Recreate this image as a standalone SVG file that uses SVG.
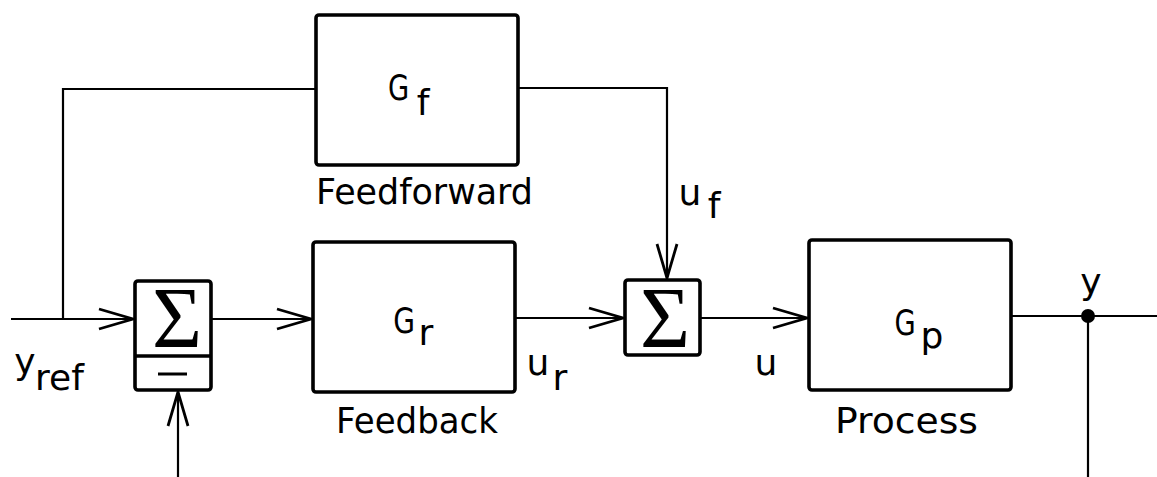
<svg xmlns="http://www.w3.org/2000/svg" width="1157" height="477" viewBox="0 0 1157 477">
<style>
.box{fill:#fff;stroke:#000;stroke-width:3.6;stroke-linejoin:round}
.ln{fill:none;stroke:#000;stroke-width:2.2}
.t{font-family:"DejaVu Sans","Liberation Sans",sans-serif;font-size:36px;fill:#000}
.lbl{font-family:"DejaVu Sans","Liberation Sans",sans-serif;font-size:35px;fill:#000}
.sig{font-family:"Liberation Serif","DejaVu Serif",serif;font-size:86px;fill:#000}
</style>
<defs>
<marker id="arr" markerUnits="userSpaceOnUse" markerWidth="42" markerHeight="28" viewBox="-3 -14 42 28" refX="34" refY="0" orient="auto">
<path d="M0,-10 L34,0 L0,10" fill="none" stroke="#000" stroke-width="2.8" stroke-linejoin="miter"/>
</marker>
</defs>
<g id="connectors">
<path class="ln" d="M11,319 H133" marker-end="url(#arr)"/>
<path class="ln" d="M63,319 V89 H316"/>
<path class="ln" d="M518,88 H667 V278" marker-end="url(#arr)"/>
<path class="ln" d="M211,319 H311" marker-end="url(#arr)"/>
<path class="ln" d="M515,318 H623" marker-end="url(#arr)"/>
<path class="ln" d="M700,318 H807" marker-end="url(#arr)"/>
<path class="ln" d="M1011,316 H1157"/>
<path class="ln" d="M1088,316 V477"/>
<path class="ln" d="M178,477 V392" marker-end="url(#arr)"/>
<circle cx="1088" cy="316" r="7" fill="#000"/>
</g>
<g id="feedforward">
<rect class="box" x="316" y="15" width="202" height="150" rx="3"/>
<text class="t" transform="translate(398.5,100) scale(0.76,1)" text-anchor="middle">G</text>
<text class="t" x="423" y="115" text-anchor="middle">f</text>
<text class="lbl" x="316" y="204" textLength="217" lengthAdjust="spacingAndGlyphs">Feedforward</text>
</g>
<g id="feedback">
<rect class="box" x="313" y="242" width="202" height="150" rx="3"/>
<text class="t" transform="translate(404,333) scale(0.78,1)" text-anchor="middle">G</text>
<text class="t" x="426" y="345" text-anchor="middle">r</text>
<text class="lbl" x="336" y="433" textLength="162" lengthAdjust="spacingAndGlyphs">Feedback</text>
</g>
<g id="process">
<rect class="box" x="809" y="240" width="202" height="150" rx="3"/>
<text class="t" transform="translate(905,335) scale(0.76,1)" text-anchor="middle">G</text>
<text class="t" x="932" y="348" text-anchor="middle">p</text>
<text class="lbl" x="835" y="433" textLength="143" lengthAdjust="spacingAndGlyphs">Process</text>
</g>
<g id="sum1">
<rect class="box" x="135" y="281" width="76" height="109" rx="3"/>
<line x1="135" y1="356" x2="211" y2="356" stroke="#000" stroke-width="3.6"/>
<text class="sig" x="177" y="347" text-anchor="middle">Σ</text>
<line x1="158" y1="374" x2="187" y2="374" stroke="#000" stroke-width="3"/>
</g>
<g id="sum2">
<rect class="box" x="625" y="280" width="75" height="75" rx="3"/>
<text class="sig" x="665" y="347" text-anchor="middle">Σ</text>
</g>
<g id="labels">
<text class="t" x="25" y="374" text-anchor="middle">y</text>
<text class="t" x="35" y="390">ref</text>
<text class="t" x="538" y="375" text-anchor="middle">u</text>
<text class="t" x="560" y="390" text-anchor="middle">r</text>
<text class="t" x="690" y="205" text-anchor="middle">u</text>
<text class="t" x="714" y="218" text-anchor="middle">f</text>
<text class="t" x="766" y="375" text-anchor="middle">u</text>
<text class="t" x="1091" y="294" text-anchor="middle">y</text>
</g>
</svg>
